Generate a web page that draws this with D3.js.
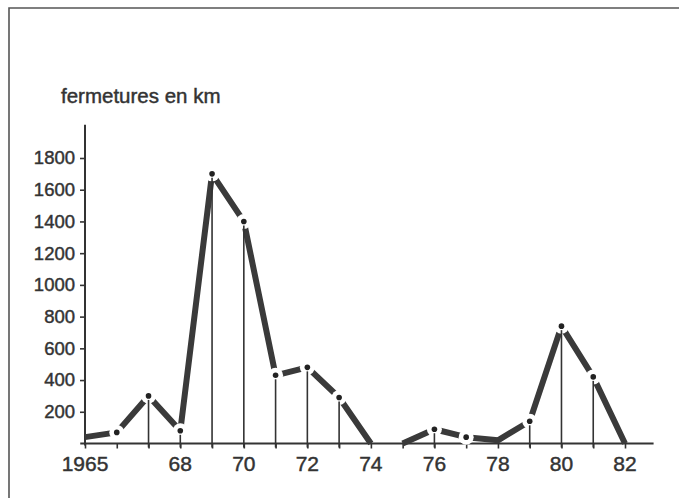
<!DOCTYPE html>
<html lang=fr>
<head>
    <meta charset='utf-8'>
    <script src="https://d3js.org/d3.v7.min.js"></script>
    <style>
        body { margin: 0; background: #fff; }
        /* thin stroke on the text so it reads as heavy as the scan */
        .lbl { font-family: "Liberation Sans", Arial, sans-serif; fill: #333; stroke: #333; stroke-width: 0.45px; }
        .xlbl { font-family: "Liberation Sans Narrow", "Liberation Sans", Arial, sans-serif; fill: #333; stroke: #333; stroke-width: 0.45px; }
    </style>
</head>
<body>
<div id="chart"></div>
<script>
    // data
    var years = [1965, 1966, 1967, 1968, 1969, 1970, 1971, 1972, 1973, 1974,
                 1975, 1976, 1977, 1978, 1979, 1980, 1981, 1982];
    var closures = [40, 70, 300, 80, 1700, 1400, 430, 480, 290, 0,
                    0, 90, 40, 20, 140, 740, 420, 0];
    // the line is broken after this year
    var breakAfter = [1974];
    // years that carry a dot / a drop line
    var dotYears = [1966, 1967, 1968, 1969, 1970, 1971, 1972, 1973, 1976, 1977, 1979, 1980, 1981];
    var dropYears = [1967, 1968, 1969, 1970, 1971, 1972, 1973, 1976, 1979, 1980, 1981];
    var yTicks = [200, 400, 600, 800, 1000, 1200, 1400, 1600, 1800];
    var xLabels = {1965: "1965", 1968: "68", 1970: "70", 1972: "72", 1974: "74",
                   1976: "76", 1978: "78", 1980: "80", 1982: "82"};
    var yTitle = "fermetures en km";

    var W = 679, H = 498;
    var ink = "#333";

    var svg = d3.select("#chart").append("svg")
        .attr("width", W).attr("height", H);

    // frame (top and left edges only, the rest is cut off in the scan)
    svg.append("path")
        .attr("d", "M9,498 V8 H679")
        .attr("fill", "none").attr("stroke", "#555").attr("stroke-width", 1.6);

    var x = d3.scaleLinear().domain([1965, 1982]).range([85, 625]);
    var y = d3.scaleLinear().domain([0, 1800]).range([443.5, 158]);

    var data = years.map(function(d, i) { return {year: d, v: closures[i]}; });

    // split into segments at the breaks
    var segments = [[]];
    data.forEach(function(d) {
        segments[segments.length - 1].push(d);
        if (breakAfter.indexOf(d.year) >= 0) segments.push([]);
    });

    // axes
    var xAxis = svg.append("g")
        .attr("transform", "translate(0," + y(0) + ")")
        .call(d3.axisBottom(x).tickValues(years).tickSize(5).tickFormat(""));
    xAxis.select(".domain").remove();
    xAxis.selectAll("line").attr("stroke", ink).attr("stroke-width", 1.6);

    svg.append("line")
        .attr("x1", x(1964.85)).attr("x2", x(1982.9))
        .attr("y1", y(0)).attr("y2", y(0))
        .attr("stroke", ink).attr("stroke-width", 2);

    svg.selectAll(".xlbl")
        .data(Object.keys(xLabels))
        .enter().append("text")
        .attr("class", "xlbl")
        .attr("x", function(d) { return x(+d); })
        .attr("y", y(0) + 27)
        .attr("text-anchor", "middle")
        .style("font-size", "21px")
        .text(function(d) { return xLabels[d]; });

    var yAxis = svg.append("g")
        .attr("transform", "translate(" + x(1965) + ",0)")
        .call(d3.axisLeft(y).tickValues(yTicks).tickSize(5).tickPadding(5).tickFormat(d3.format("d")));
    yAxis.select(".domain").remove();
    yAxis.selectAll("line").attr("stroke", ink).attr("stroke-width", 1.6);
    yAxis.selectAll("text")
        .attr("class", "lbl")
        .attr("fill", ink)
        .style("font-size", "18.5px")
        .style("font-family", "'Liberation Sans', Arial, sans-serif");

    svg.append("line")
        .attr("x1", x(1965)).attr("x2", x(1965))
        .attr("y1", y(-12)).attr("y2", y(2010))
        .attr("stroke", ink).attr("stroke-width", 2);

    svg.append("text")
        .attr("class", "lbl")
        .attr("x", 61).attr("y", 103)
        .style("font-size", "20.5px")
        .text(yTitle);

    // thick line
    var line = d3.line()
        .x(function(d) { return x(d.year); })
        .y(function(d) { return y(d.v); });

    svg.selectAll(".seg")
        .data(segments)
        .enter().append("path")
        .attr("class", "seg")
        .attr("d", line)
        .attr("fill", "none")
        .attr("stroke", "#3a3a3a")
        .attr("stroke-width", 6)
        .attr("stroke-linejoin", "bevel");

    var dots = data.filter(function(d) { return dotYears.indexOf(d.year) >= 0; });

    // white gap round each dot
    svg.selectAll(".halo")
        .data(dots)
        .enter().append("circle")
        .attr("cx", function(d) { return x(d.year); })
        .attr("cy", function(d) { return y(d.v); })
        .attr("r", 7.5)
        .attr("fill", "#fff");

    // thin drop lines down to the axis
    svg.selectAll(".drop")
        .data(data.filter(function(d) { return dropYears.indexOf(d.year) >= 0; }))
        .enter().append("line")
        .attr("x1", function(d) { return x(d.year); })
        .attr("x2", function(d) { return x(d.year); })
        .attr("y1", function(d) { return y(d.v) + 4; })
        .attr("y2", y(0) + 4)
        .attr("stroke", ink)
        .attr("stroke-width", 1.6);

    svg.selectAll(".dot")
        .data(dots)
        .enter().append("circle")
        .attr("cx", function(d) { return x(d.year); })
        .attr("cy", function(d) { return y(d.v); })
        .attr("r", 2.8)
        .attr("fill", "#222");
</script>
</body>
</html>
